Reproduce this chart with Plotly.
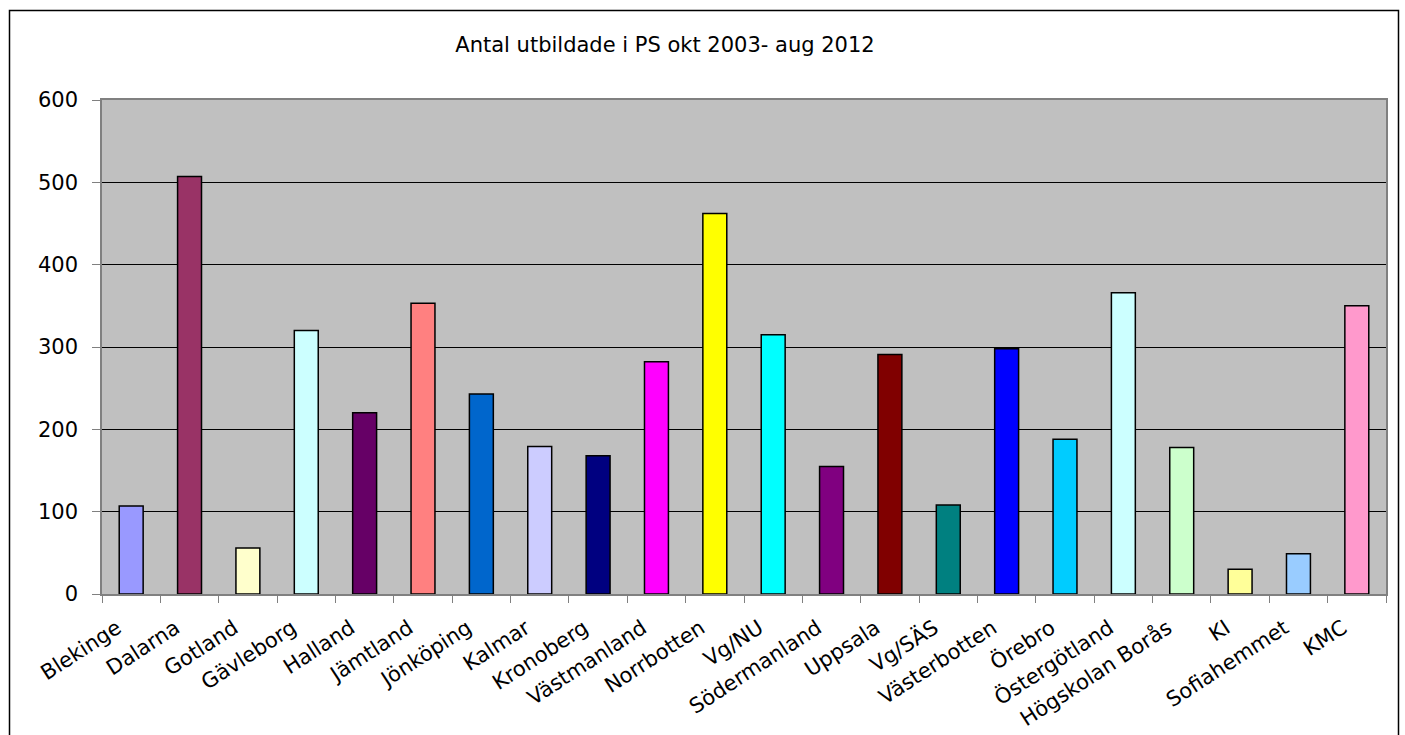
import plotly.graph_objects as go

categories = ["Blekinge", "Dalarna", "Gotland", "Gävleborg", "Halland", "Jämtland",
              "Jönköping", "Kalmar", "Kronoberg", "Västmanland", "Norrbotten", "Vg/NU",
              "Södermanland", "Uppsala", "Vg/SÄS", "Västerbotten", "Örebro",
              "Östergötland", "Högskolan Borås", "KI", "Sofiahemmet", "KMC"]
values = [107, 507, 56, 320, 220, 353, 243, 179, 168, 282, 462, 315,
          155, 291, 108, 298, 188, 366, 178, 30, 49, 350]
colors = ["#9999FF", "#993366", "#FFFFCC", "#CCFFFF", "#660066", "#FF8080",
          "#0066CC", "#CCCCFF", "#000080", "#FF00FF", "#FFFF00", "#00FFFF",
          "#800080", "#800000", "#008080", "#0000FF", "#00CCFF", "#CCFFFF",
          "#CCFFCC", "#FFFF99", "#99CCFF", "#FF99CC"]
y_ticks = [0, 100, 200, 300, 400, 500, 600]
title_text = "Antal utbildade i PS okt 2003- aug 2012"

W, H = 1405, 735
L, R, T, B = 102, 19, 100, 141
pw, ph = W - L - R, H - T - B

def px_x(p):
    return (p - L) / pw

def px_y(p):
    return (H - B - p) / ph

font_family = "DejaVu Sans, Arial, sans-serif"

fig = go.Figure(go.Bar(
    x=categories, y=values,
    marker=dict(color=colors, line=dict(color="black", width=1.5)),
    width=0.41,
))

fig.update_layout(
    width=W, height=H,
    margin=dict(l=L, r=R, t=T, b=B, autoexpand=False),
    paper_bgcolor="white", plot_bgcolor="#C0C0C0",
    showlegend=False,
    font=dict(family=font_family, color="black", size=20),
    title=dict(text=title_text, x=665 / W, xanchor="center",
               y=1 - 45 / H, yanchor="middle",
               font=dict(size=21, family=font_family)),
)
fig.update_xaxes(
    type="category", tickangle=-33, tickson="boundaries", automargin=False,
    ticks="outside", ticklen=7, tickcolor="#808080", tickwidth=1,
    showline=True, linecolor="#808080", linewidth=1.5, mirror=True,
    showgrid=False, tickfont=dict(size=21, family=font_family),
    ticklabelstandoff=12, ticklabelshift=-14,
)
fig.update_yaxes(
    range=[0, 600], tickvals=y_ticks, ticks="outside", ticklen=8, tickcolor="#808080",
    automargin=False,
    showline=True, linecolor="#808080", linewidth=1.5, mirror=True,
    showgrid=True, gridcolor="black", gridwidth=1, zeroline=False,
    tickfont=dict(size=21, family=font_family), ticklabelstandoff=10,
)
fig.add_shape(type="rect", xref="paper", yref="paper",
              x0=px_x(9.5), x1=px_x(1398.5), y0=px_y(760), y1=px_y(10.5),
              line=dict(color="black", width=1.5), fillcolor="rgba(0,0,0,0)", layer="below")

fig.write_html("out.html")
